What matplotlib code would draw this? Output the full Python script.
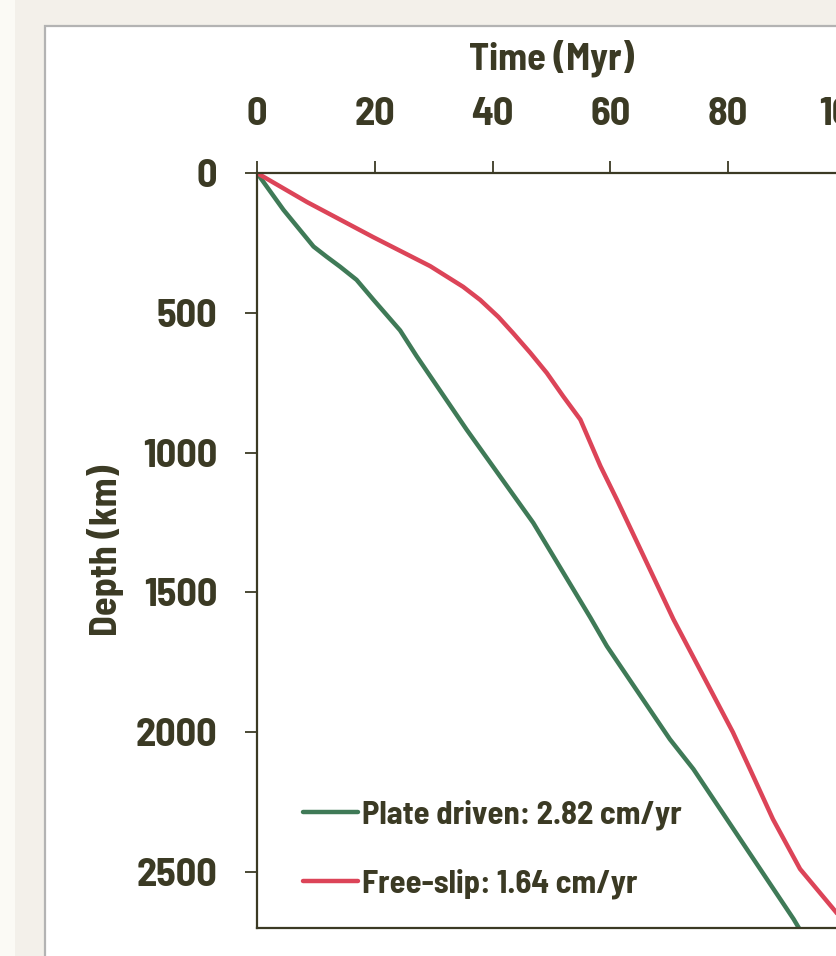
import numpy as np
import matplotlib
matplotlib.use("Agg")
import matplotlib.pyplot as plt
from matplotlib.patches import Rectangle

# values
plate_t = [0, 4.5, 9.6, 11.8, 14.1, 16.9, 19.8, 21.7, 24.3, 27.1, 35.6, 46.9, 56.6, 59.4, 70.1, 74.1, 91.1, 92.0]
plate_d = [0, 132, 263, 299, 335, 382, 454, 500, 563, 655, 918, 1251, 1590, 1692, 2025, 2132, 2668, 2700]

slip_t = [0, 8.5, 19.7, 29.4, 35.0, 37.9, 41.0, 43.5, 46.4, 49.2, 52.0, 54.9, 58.3, 61.1, 65.1,
          70.7, 80.8, 83.7, 87.6, 92.2, 98.3, 100.0]
slip_d = [0, 104, 229, 333, 407, 454, 515, 573, 643, 715, 799, 882, 1048, 1168, 1346,
          1596, 2000, 2132, 2311, 2489, 2643, 2690]

x_ticks = [0, 20, 40, 60, 80, 100]
y_ticks = [0, 500, 1000, 1500, 2000, 2500]
labels = ["Plate driven: 2.82 cm/yr", "Free-slip: 1.64 cm/yr"]

green = "#3f7a57"
red = "#dc4458"
ink = "#3b3a24"

plt.rcParams["font.family"] = ["Barlow Semi Condensed", "Asap Condensed", "DejaVu Sans"]
plt.rcParams["font.weight"] = "bold"

W, H = 836, 956
fig = plt.figure(figsize=(W / 100, H / 100), dpi=100, facecolor="#f3f0ea")

# page background pieces
fig.patches.append(Rectangle((0, 0), 15 / W, 1, transform=fig.transFigure,
                             facecolor="#fbfaf5", edgecolor="none", zorder=-10))
fig.patches.append(Rectangle((45 / W, -0.1), 1.2, 1.1 - 26 / H, transform=fig.transFigure,
                             facecolor="white", edgecolor="#b3b3b3", linewidth=1.6, zorder=-10))

ax = fig.add_axes([257 / W, 1 - 928 / H, 589 / W, 755 / H])
ax.set_facecolor("none")
ax.set_zorder(5)

ax.plot(plate_t, plate_d, color=green, linewidth=3.2, label=labels[0],
        solid_capstyle="round", solid_joinstyle="round")
ax.plot(slip_t, slip_d, color=red, linewidth=3.2, label=labels[1],
        solid_capstyle="round", solid_joinstyle="round")

ax.set_xlim(0, 100)
ax.set_ylim(2700, 0)
ax.set_xticks(x_ticks)
ax.set_yticks(y_ticks)

ax.xaxis.tick_top()
ax.tick_params(axis="x", direction="out", length=8.5, width=1.3, color=ink,
               labelsize=29, labelcolor=ink, pad=21)
ax.tick_params(axis="y", direction="out", length=8.5, width=1.3, color=ink,
               labelsize=29, labelcolor=ink, pad=20)
for s in ax.spines.values():
    s.set_color(ink)
    s.set_linewidth(1.6)

ax.set_xlabel("Time (Myr)", fontsize=27.5, color=ink, fontweight="bold")
ax.xaxis.set_label_position("top")
ax.xaxis.set_label_coords(0.5, 1.152)
ax.set_ylabel("Depth (km)", fontsize=27.5, color=ink, fontweight="bold")
ax.yaxis.set_label_coords(-0.258, 0.5)
ax.xaxis.label.set_va("center")
ax.yaxis.label.set_va("center")

leg = ax.legend(loc="lower left", bbox_to_anchor=(0.078, 0.038), frameon=False,
                fontsize=23.5, handlelength=1.7, handletextpad=0.1,
                labelspacing=1.2, borderaxespad=0, borderpad=0)
for t in leg.get_texts():
    t.set_color(ink)
for l in leg.get_lines():
    l.set_linewidth(3.2)

fig.savefig("out.png", dpi=100, facecolor=fig.get_facecolor())
